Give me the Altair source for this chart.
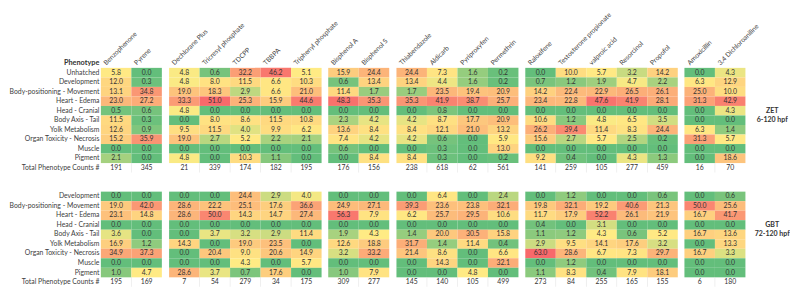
import altair as alt
import pandas as pd

chemicals = ["Benzophenone", "Pyrene",
             "Dechlorane Plus", "Tricresyl phosphate", "TDCPP", "TBBPA", "Triphenyl phosphate",
             "Bisphenol A", "Bisphenol S",
             "Thiabendazole", "Aldicarb", "Pyriproxyfen", "Permethrin",
             "Raloxifene", "Testosterone propionate", "valproic acid", "Resorcinol", "Propofol",
             "Amoxicillin", "3,4 Dichloroaniline"]
group_sizes = [2, 5, 2, 4, 5, 2]

zet_phenotypes = ["Unhatched", "Development", "Body-positioning - Movement", "Heart - Edema",
                  "Head - Cranial", "Body Axis - Tail", "Yolk Metabolism",
                  "Organ Toxicity - Necrosis", "Muscle", "Pigment"]
zet_values = [
    [5.8, 0.0, 4.8, 0.6, 32.2, 46.2, 5.1, 15.9, 24.4, 24.4, 7.3, 1.6, 0.2, 0.0, 10.0, 5.7, 3.2, 14.2, 0.0, 4.3],
    [12.0, 0.3, 4.8, 8.0, 11.5, 6.6, 10.3, 0.6, 13.4, 13.4, 4.4, 1.6, 0.2, 0.7, 1.2, 1.9, 4.7, 2.2, 6.3, 12.9],
    [13.1, 34.8, 19.0, 18.3, 2.9, 6.6, 21.0, 11.4, 1.7, 1.7, 23.5, 19.4, 20.9, 14.2, 22.4, 22.9, 26.5, 26.1, 25.0, 10.0],
    [23.0, 27.2, 33.3, 51.0, 25.3, 15.9, 44.6, 48.3, 35.3, 35.3, 41.9, 38.7, 25.7, 23.4, 22.8, 47.6, 41.9, 28.1, 31.3, 42.9],
    [0.5, 0.6, 4.8, 0.0, 0.0, 0.0, 0.0, 0.0, 0.0, 0.0, 0.8, 0.0, 0.0, 0.0, 0.0, 0.0, 0.0, 0.0, 0.0, 4.3],
    [11.5, 0.3, 0.0, 8.0, 8.6, 11.5, 10.8, 2.3, 4.2, 4.2, 8.7, 17.7, 20.9, 10.6, 1.2, 4.8, 6.5, 3.5, 0.0, 0.0],
    [12.6, 0.9, 9.5, 11.5, 4.0, 9.9, 6.2, 13.6, 8.4, 8.4, 12.1, 21.0, 13.2, 26.2, 39.4, 11.4, 8.3, 24.4, 6.3, 1.4],
    [15.2, 35.9, 19.0, 2.7, 5.2, 2.2, 2.1, 7.4, 4.2, 4.2, 0.6, 0.0, 5.9, 15.6, 2.7, 5.7, 2.5, 0.2, 31.3, 5.7],
    [0.0, 0.0, 0.0, 0.0, 0.0, 0.0, 0.0, 0.6, 0.0, 0.0, 0.3, 0.0, 13.0, 0.0, 0.0, 0.0, 0.0, 0.0, 0.0, 0.0],
    [2.1, 0.0, 4.8, 0.0, 10.3, 1.1, 0.0, 0.0, 8.4, 8.4, 0.3, 0.0, 0.2, 9.2, 0.4, 0.0, 4.3, 1.3, 0.0, 18.6],
]
zet_totals = [191, 345, 21, 339, 174, 182, 195, 176, 156, 238, 618, 62, 561, 141, 259, 105, 277, 459, 16, 70]

gbt_phenotypes = ["Development", "Body-positioning - Movement", "Heart - Edema",
                  "Head - Cranial", "Body Axis - Tail", "Yolk Metabolism",
                  "Organ Toxicity - Necrosis", "Muscle", "Pigment"]
gbt_values = [
    [0.0, 0.0, 0.0, 0.0, 24.4, 2.9, 4.0, 0.0, 0.0, 0.0, 6.4, 0.0, 2.4, 0.0, 1.2, 0.0, 0.0, 0.6, 0.0, 0.6],
    [19.0, 42.0, 28.6, 22.2, 25.1, 17.6, 36.6, 24.9, 27.1, 39.3, 23.6, 23.8, 32.1, 19.8, 32.1, 19.2, 40.6, 21.3, 50.0, 25.6],
    [23.1, 14.8, 28.6, 50.0, 14.3, 14.7, 27.4, 56.3, 7.9, 6.2, 25.7, 29.5, 10.6, 11.7, 17.9, 52.2, 26.1, 21.9, 16.7, 41.7],
    [0.0, 0.0, 0.0, 0.0, 0.0, 0.0, 0.0, 0.0, 0.0, 0.0, 0.0, 0.0, 0.0, 0.4, 0.0, 3.1, 0.0, 0.0, 0.0, 0.0],
    [3.6, 0.0, 0.0, 3.7, 3.2, 2.9, 11.4, 1.9, 4.3, 1.4, 20.0, 30.5, 15.8, 1.1, 1.2, 4.3, 0.6, 5.2, 16.7, 13.6],
    [16.9, 1.2, 14.3, 0.0, 19.0, 23.5, 0.0, 12.6, 18.8, 31.7, 1.4, 11.4, 0.4, 2.9, 9.5, 14.1, 17.6, 3.2, 0.0, 13.3],
    [34.9, 37.3, 0.0, 20.4, 9.0, 20.6, 14.9, 3.2, 33.2, 21.4, 8.6, 0.0, 6.6, 63.0, 28.6, 6.7, 7.3, 29.7, 16.7, 3.3],
    [0.0, 0.0, 0.0, 0.0, 4.3, 0.0, 5.7, 0.0, 0.0, 0.0, 14.3, 0.0, 32.1, 0.0, 1.2, 0.0, 0.0, 0.0, 0.0, 0.0],
    [1.0, 4.7, 28.6, 3.7, 0.7, 17.6, 0.0, 1.0, 7.9, 0.0, 0.0, 4.8, 0.0, 1.1, 8.3, 0.4, 7.9, 18.1, 0.0, 0.0],
]
gbt_totals = [195, 169, 7, 54, 279, 34, 175, 309, 277, 145, 140, 105, 499, 273, 84, 255, 165, 155, 6, 180]

total_label = "Total Phenotype Counts #"
table_tags = [("ZET", "6-120 hpf"), ("GBT", "72-120 hpf")]
tag_rows = ["Head - Cranial", "Body Axis - Tail"]

# ---- build tidy table ----
groups = []
start = 0
for n in group_sizes:
    groups.append(chemicals[start:start + n])
    start += n
first_of_group = {g[0] for g in groups}

row_keys = []
records = []
for table, phens, vals, tots in [("ZET", zet_phenotypes, zet_values, zet_totals),
                                 ("GBT", gbt_phenotypes, gbt_values, gbt_totals)]:
    for p, rowvals in zip(phens, vals):
        key = f"{table}|{p}"
        row_keys.append(key)
        for c, v in zip(chemicals, rowvals):
            records.append(dict(table=table, row=key, chem=c, value=v,
                                text=f"{v:.1f}", kind="cell", first=c in first_of_group))
    key = f"{table}|{total_label}"
    row_keys.append(key)
    for c, v in zip(chemicals, tots):
        records.append(dict(table=table, row=key, chem=c, value=v,
                            text=str(v), kind="total", first=c in first_of_group))
    if table == "ZET":
        row_keys += ["sp1", "sp2"]
df = pd.DataFrame(records)

tag_records = []
for tag in table_tags:
    for r, s in zip(tag_rows, tag):
        tag_records.append(dict(row=f"{tag[0]}|{r}", text=s))
tag_df = pd.DataFrame(tag_records)

CW = 31.2
RH = 9.74
FONT = "Lato"
H = RH * len(row_keys)

yscale = alt.Scale(domain=row_keys, paddingInner=0, paddingOuter=0)
cscale = alt.Scale(domain=[0, 0.5, 1], range=["#63BE7B", "#FFEB84", "#F8696B"], interpolate="rgb")

t_expr = ("datum.value <= datum.med ? (datum.med > 0 ? 0.5*datum.value/datum.med : 0.5)"
          " : 0.5 + 0.5*(datum.value - datum.med)/(datum.mx - datum.med)")


def panel(chems, show_y):
    xscale = alt.Scale(domain=chems, paddingInner=0, paddingOuter=0)
    xaxis = alt.Axis(orient="top", title=None, labelAngle=315, labelAlign="left",
                     labelBaseline="alphabetic", labelOffset=-10, labelPadding=3,
                     ticks=False, domain=False, labelFont=FONT, labelFontSize=6.8,
                     labelColor="#404040", labelLimit=0)
    if show_y:
        yaxis = alt.Axis(title="Phenotype", titleAngle=0, titleAlign="right",
                         titleBaseline="alphabetic", titleX=-2, titleY=-3,
                         titleFont=FONT, titleFontSize=7.5, titleFontWeight="bold",
                         titleColor="#333333",
                         labelExpr="indexof(datum.label, '|') >= 0 ? split(datum.label, '|')[1] : ''",
                         ticks=False, domain=False, labelPadding=2, labelFont=FONT,
                         labelFontSize=7, labelColor="#404040", labelLimit=0)
    else:
        yaxis = None
    X = alt.X("chem:N", scale=xscale, axis=xaxis)
    Y = alt.Y("row:N", scale=yscale, axis=yaxis)
    base = alt.Chart(df)
    cells = (base.transform_filter("datum.kind == 'cell'")
             .transform_joinaggregate(med="median(value)", mx="max(value)", groupby=["table"])
             .transform_calculate(t=t_expr)
             .transform_filter(alt.FieldOneOfPredicate(field="chem", oneOf=chems))
             .mark_rect()
             .encode(x=X, y=Y, color=alt.Color("t:Q", scale=cscale, legend=None)))
    seps = (base.transform_filter("datum.kind == 'total' && !datum.first")
            .transform_filter(alt.FieldOneOfPredicate(field="chem", oneOf=chems))
            .mark_tick(orient="vertical", color="#d9d9d9", thickness=0.6, size=RH)
            .encode(x=alt.X("chem:N", scale=xscale, axis=xaxis, bandPosition=0), y=Y))
    texts = (base.transform_filter(alt.FieldOneOfPredicate(field="chem", oneOf=chems))
             .mark_text(font=FONT, fontSize=7, color="#333333")
             .encode(x=X, y=Y, text="text:N"))
    return alt.layer(cells, seps, texts).properties(width=CW * len(chems), height=H)


panels = [panel(g, i == 0) for i, g in enumerate(groups)]
tags = (alt.Chart(tag_df).mark_text(font=FONT, fontSize=7.2, fontWeight="bold", color="#333333",
                                    align="center", baseline="middle")
        .encode(y=alt.Y("row:N", scale=yscale, axis=None), x=alt.value(20), text="text:N")
        .properties(width=36, height=H))

chart = (alt.hconcat(*panels, tags, spacing=6.8, bounds="flush")
         .properties(padding=0, background="white")
         .configure_view(stroke=None))

chart.save("out.html", embed_options={"renderer": "svg", "actions": False})
